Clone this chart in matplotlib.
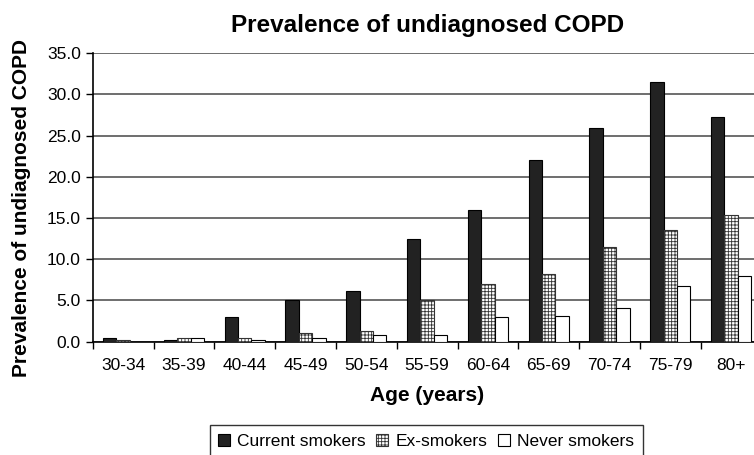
import numpy as np
import matplotlib
matplotlib.use("Agg")
import matplotlib.pyplot as plt

plt.rcParams['font.family'] = ['Liberation Sans', 'DejaVu Sans']
plt.rcParams['hatch.linewidth'] = 0.6

ages = ['30-34', '35-39', '40-44', '45-49', '50-54', '55-59',
        '60-64', '65-69', '70-74', '75-79', '80+']
current = [0.5, 0.25, 3.0, 5.1, 6.1, 12.5, 16.0, 22.0, 25.9, 31.5, 27.3]
ex = [0.25, 0.4, 0.4, 1.0, 1.25, 5.0, 7.0, 8.2, 11.5, 13.6, 15.4]
never = [0.0, 0.5, 0.25, 0.5, 0.85, 0.8, 3.0, 3.15, 4.15, 6.8, 8.0]

fig = plt.figure(figsize=(7.54, 4.55), dpi=100)
ax = fig.add_axes([0.123, 0.249, 0.887, 0.634])

x = np.arange(len(ages))
w = 0.22
ax.bar(x - w, current, w, color='#222222', edgecolor='black', linewidth=0.8,
       label='Current smokers', zorder=3)
ax.bar(x, ex, w, color='white', edgecolor='#333333', hatch='+++++',
       linewidth=0.8, label='Ex-smokers', zorder=3)
ax.bar(x + w, never, w, color='white', edgecolor='black', linewidth=0.8,
       label='Never smokers', zorder=3)

ax.set_xlim(-0.5, len(ages) - 0.5)
ax.set_ylim(0, 35)
ax.set_yticks(np.arange(0, 36, 5))
ax.set_yticklabels(['%.1f' % v for v in np.arange(0, 36, 5)], fontsize=12.5)
ax.set_xticks(x)
ax.set_xticklabels(ages, fontsize=12.5)
ax.set_xticks(np.arange(-0.5, len(ages), 1), minor=True)
ax.tick_params(axis='x', which='major', length=0, pad=12)
ax.tick_params(axis='x', which='minor', length=5, width=1, color='black')
ax.tick_params(axis='y', length=5, width=1, color='black')

ax.yaxis.grid(True, color='#555555', linewidth=1.2, zorder=0)
ax.spines['right'].set_visible(False)
ax.spines['top'].set_visible(False)
ax.spines['left'].set_linewidth(1.2)
ax.spines['bottom'].set_linewidth(1.2)

ax.set_title('Prevalence of undiagnosed COPD', fontsize=17.5, fontweight='bold', pad=15)
ax.set_ylabel('Prevalence of undiagnosed COPD', fontsize=15, fontweight='bold')
ax.yaxis.set_label_coords(-0.092, 0.464)
ax.set_xlabel('Age (years)', fontsize=15, fontweight='bold', labelpad=9)

leg = fig.legend(loc='center', bbox_to_anchor=(0.565, 0.03), ncol=3, fontsize=12.5,
                 frameon=True, fancybox=False, edgecolor='black',
                 handlelength=0.7, handleheight=0.7, handletextpad=0.4,
                 columnspacing=0.6, borderpad=0.5)
leg.get_frame().set_linewidth(1.0)

fig.savefig('out.png', dpi=100)
